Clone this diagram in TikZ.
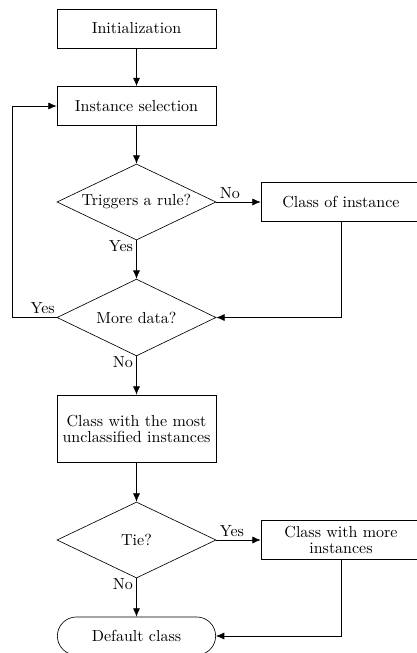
\documentclass[tikz,border=0pt]{standalone}
\usetikzlibrary{shapes.geometric,shapes.misc,arrows.meta}
\begin{document}
\begin{tikzpicture}[x=0.625pt,y=-0.625pt,
  every node/.style={font=\fontsize{10}{10}\selectfont},
  procbox/.style={draw,rectangle,align=center,minimum width=99.4pt,minimum height=24.4pt,inner sep=2pt},
  decbox/.style={draw,diamond,align=center,minimum width=99.4pt,minimum height=47.5pt,inner sep=0pt,aspect=2.1},
  termbox/.style={draw,rounded rectangle,align=center,minimum width=105.6pt,minimum height=23.8pt},
  arr/.style={-{Latex[length=5.2pt,width=4.4pt]}},
  lbl/.style={inner sep=2pt}]
\useasboundingbox (0,0) rectangle (417,653);
\clip (0,0) rectangle (417,653);
\node[procbox] (init) at (136.5,28.5) {Initialization};
\node[procbox] (inst) at (136.5,106) {Instance selection};
\node[decbox] (trig) at (136.5,202) {Triggers a rule?};
\node[procbox,minimum width=100pt] (coi) at (341,202) {Class of instance};
\node[decbox,minimum height=48pt] (more) at (136.5,317.5) {More data?};
\node[procbox,minimum height=41.9pt] (cwm) at (136.5,428.5) {Class with the most\\unclassified instances};
\node[decbox] (tie) at (136.5,540) {Tie?};
\node[procbox,minimum width=100pt] (cwmi) at (341,540) {Class with more\\instances};
\node[termbox] (def) at (136.5,636) {Default class};
\coordinate (loop) at (12,317.5);
\draw[arr] (init) -- (inst);
\draw[arr] (inst) -- (trig);
\draw[arr] (trig.east) -- node[lbl,pos=0,anchor=south west] {No} (coi.west);
\draw[arr] (trig.south) -- node[lbl,pos=0,anchor=north east,inner ysep=0pt] {Yes} (more.north);
\draw[arr] (more.west) -- node[lbl,pos=0,anchor=south east,inner xsep=1pt] {Yes} (loop) |- (inst.west);
\draw[arr] (coi.south) |- (more.east);
\draw[arr] (more.south) -- node[lbl,pos=0,anchor=north east,inner ysep=0pt] {No} (cwm.north);
\draw[arr] (cwm) -- (tie);
\draw[arr] (tie.east) -- node[lbl,pos=0,anchor=south west] {Yes} (cwmi.west);
\draw[arr] (tie.south) -- node[lbl,pos=0,anchor=north east,inner ysep=0pt] {No} (def.north);
\draw[arr] (cwmi.south) |- (def.east);
\end{tikzpicture}
\end{document}
